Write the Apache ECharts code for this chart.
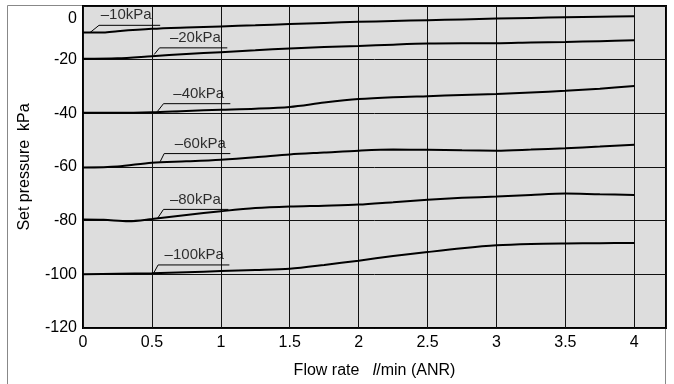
<!DOCTYPE html>
<html><head><meta charset="utf-8">
<script src="https://cdn.jsdelivr.net/npm/echarts@6/dist/echarts.min.js"></script>
<style>html,body{margin:0;padding:0;background:#fff}#c{width:674px;height:384px}</style>
</head><body><div id="c"></div>
<script>
// ---- data ----
const xMin = 0, xMax = 4.23, xStep = 0.5;
const yMin = -120, yMax = 0, yStep = 20;

const curve10  = [[0,-9.9],[0.15,-9.9],[0.25,-9.4],[0.5,-8.5],[0.75,-8.0],[1,-7.6],[1.25,-7.2],[1.5,-6.7],[1.75,-6.3],[2,-5.9],[2.25,-5.6],[2.5,-5.3],[2.75,-5.0],[3,-4.7],[3.25,-4.45],[3.5,-4.2],[3.75,-4.0],[4,-3.8]];
const curve20  = [[0,-19.7],[0.25,-19.5],[0.5,-18.7],[0.75,-17.9],[1,-17.2],[1.25,-16.5],[1.5,-15.8],[1.75,-15.3],[2,-14.9],[2.25,-14.4],[2.5,-14.0],[2.75,-13.9],[3,-13.9],[3.25,-13.6],[3.5,-13.4],[3.75,-13.1],[4,-12.8]];
const curve40  = [[0,-39.8],[0.25,-39.8],[0.5,-39.6],[0.75,-39.1],[1,-38.7],[1.25,-38.3],[1.5,-37.6],[1.75,-36.0],[2,-34.7],[2.25,-34.0],[2.5,-33.6],[2.75,-33.2],[3,-32.8],[3.25,-32.2],[3.5,-31.6],[3.75,-30.8],[4,-29.8]];
const curve60  = [[0,-60.2],[0.25,-59.8],[0.5,-58.4],[0.75,-57.9],[1,-57.3],[1.25,-56.4],[1.5,-55.3],[1.75,-54.6],[2,-53.9],[2.25,-53.5],[2.5,-53.6],[2.75,-53.8],[3,-53.9],[3.25,-53.5],[3.5,-53.0],[3.75,-52.4],[4,-51.7]];
const curve80  = [[0,-79.6],[0.15,-79.7],[0.33,-80.2],[0.5,-79.4],[0.75,-77.9],[1,-76.5],[1.25,-75.3],[1.5,-74.7],[1.75,-74.4],[2,-74.0],[2.25,-73.1],[2.5,-72.2],[2.75,-71.5],[3,-71.0],[3.25,-70.4],[3.5,-69.9],[3.75,-70.2],[4,-70.4]];
const curve100 = [[0,-100.0],[0.25,-99.8],[0.5,-99.6],[0.75,-99.2],[1,-98.8],[1.25,-98.4],[1.5,-97.9],[1.75,-96.5],[2,-94.9],[2.25,-93.2],[2.5,-91.7],[2.75,-90.3],[3,-89.2],[3.25,-88.7],[3.5,-88.5],[3.75,-88.4],[4,-88.3]];

const curves = [curve10, curve20, curve40, curve60, curve80, curve100];
const labelTexts = ['\u201310kPa','\u201320kPa','\u201340kPa','\u201360kPa','\u201380kPa','\u2013100kPa'];
// leader lines: start point on curve, elbow, end x of underline, label center x
const leaderStart = [[0.051,-9.9],[0.516,-18.1],[0.540,-39.3],[0.560,-58.0],[0.540,-79.2],[0.511,-99.7]];
const leaderElbow = [[0.116,-7.2],[0.555,-15.6],[0.584,-36.4],[0.589,-55.0],[0.584,-75.8],[0.545,-96.5]];
const leaderEndX  = [0.56, 1.047, 1.069, 1.069, 1.055, 1.062];
const labelX      = [0.313, 0.815, 0.840, 0.851, 0.815, 0.807];

const xName = 'Flow rate   {it|l}/min (ANR)';
const yName = 'Set pressure  kPa';

// ---- chart ----
const chart = echarts.init(document.getElementById('c'), null, {renderer:'canvas'});
const FONT = 'Liberation Sans, Arial, sans-serif';
const series = [];
curves.forEach((c, i) => {
  series.push({
    type:'line', data:c, smooth:0.3, symbol:'none', silent:true,
    lineStyle:{color:'#000', width:2}, z:3
  });
});
labelTexts.forEach((t, i) => {
  series.push({
    type:'line', symbol:'none', silent:true, z:4,
    data:[leaderStart[i], leaderElbow[i], [leaderEndX[i], leaderElbow[i][1]]],
    lineStyle:{color:'#000', width:1}
  });
  series.push({
    type:'scatter', silent:true, z:5, symbolSize:1,
    itemStyle:{color:'rgba(0,0,0,0)'},
    data:[[labelX[i], leaderElbow[i][1]]],
    label:{show:true, position:'top', distance:2, formatter:t, color:'#000', fontSize:15, fontFamily:FONT}
  });
});

chart.setOption({
  animation:false,
  backgroundColor:'#fff',
  graphic:[{type:'rect', shape:{x:7.5, y:5.5, width:658, height:400}, style:{fill:'none', stroke:'#888', lineWidth:1}, z:-10}],
  grid:{left:83, top:6, right:8, bottom:55, show:true, backgroundColor:'#dddddd', borderColor:'#000', borderWidth:2},
  xAxis:{
    type:'value', min:xMin, max:xMax, interval:xStep,
    name:xName, nameLocation:'middle', nameGap:35,
    nameTextStyle:{color:'#000', fontSize:16, fontFamily:FONT, rich:{it:{fontStyle:'italic', fontSize:16, fontFamily:FONT, color:'#000'}}},
    axisLine:{show:false}, axisTick:{show:false},
    axisLabel:{color:'#000', fontSize:16, fontFamily:FONT, margin:7, showMaxLabel:false,
      formatter:v => (v > 4.01 ? '' : String(v))},
    splitLine:{show:true, lineStyle:{color:'#111', width:1}}
  },
  yAxis:{
    type:'value', min:yMin, max:yMax, interval:yStep,
    name:yName, nameLocation:'middle', nameGap:50, nameRotate:90,
    nameTextStyle:{color:'#000', fontSize:16, fontFamily:FONT},
    axisLine:{show:false}, axisTick:{show:false},
    axisLabel:{color:'#000', fontSize:16, fontFamily:FONT, margin:6,
      formatter:v => (v === 0 ? '{top|0}' : String(v)),
      rich:{top:{padding:[25,0,0,0], fontSize:16, fontFamily:FONT, color:'#000'}}},
    splitLine:{show:true, lineStyle:{color:'#111', width:1}}
  },
  series:series
});
</script>
</body></html>
